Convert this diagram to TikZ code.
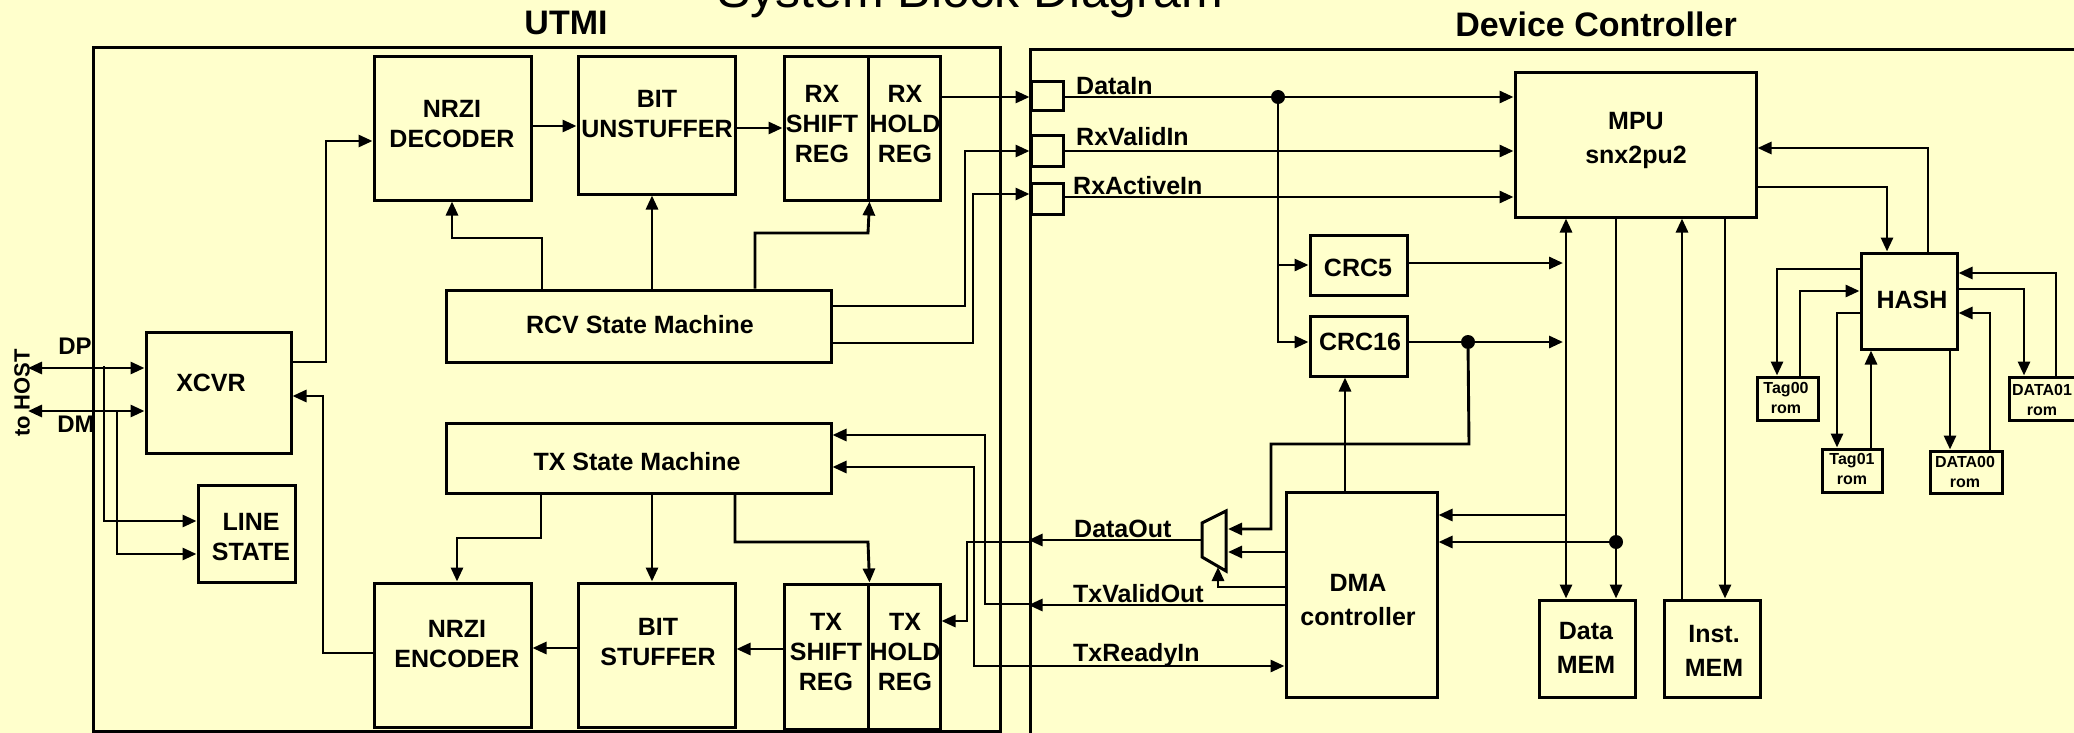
\documentclass[tikz,border=0pt]{standalone}
\usepackage{fontspec}
\setmainfont{Liberation Sans}
\usetikzlibrary{arrows.meta}
\definecolor{bgc}{HTML}{FFFFCC}
\begin{document}
\begin{tikzpicture}[x=1pt,y=-1pt,
  box/.style={draw, line width=3pt, inner sep=0pt},
  wire/.style={line width=2.9pt},
  arr/.style={wire, -{Triangle[length=14pt,width=12pt]}},
  darr/.style={wire, {Triangle[length=14pt,width=12pt]}-{Triangle[length=14pt,width=12pt]}},
  lbl/.style={font=\bfseries\fontsize{25}{29.5}\selectfont, align=center, inner sep=0pt},
  lblr/.style={font=\bfseries\fontsize{25}{30}\selectfont, align=center, inner sep=0pt},
  lblw/.style={font=\bfseries\fontsize{25}{34}\selectfont, align=center, inner sep=0pt},
  sml/.style={font=\bfseries\fontsize{16}{20}\selectfont, align=center, inner sep=0pt},
  sig/.style={font=\bfseries\fontsize{25}{30}\selectfont, anchor=base west, inner sep=0pt},
  hdr/.style={font=\bfseries\fontsize{34}{40}\selectfont, inner sep=0pt},
  dot/.style={circle, fill, inner sep=0pt, minimum size=14pt},
]
\useasboundingbox (0,0) rectangle (2074,733);
\fill[bgc] (0,0) rectangle (2074,733);

% title
\node[font=\fontsize{50}{60}\selectfont, anchor=base, inner sep=0pt] (title) at (970,8) {System Block Diagram};

% outer boxes
\node[box, minimum width=907pt, minimum height=683pt] (utmi) at (546.5,389.5) {};
\node[hdr] (utmit) at (566,23) {UTMI};
\node[box, minimum width=1060pt, minimum height=695pt] (devc) at (1560,397.5) {};
\node[hdr] (devct) at (1596,24) {Device Controller};

% UTMI blocks
\node[box, minimum width=157pt, minimum height=143pt] (nrzid) at (452.5,128.5) {};
\node[lbl] (nrzidt) at (452,124) {NRZI\\DECODER};
\node[box, minimum width=157pt, minimum height=137pt] (bitu) at (656.5,125.5) {};
\node[lbl] (bitut) at (657,114) {BIT\\UNSTUFFER};
\node[box, minimum width=84pt, minimum height=143pt] (rxs) at (826,128.5) {};
\node[box, minimum width=72pt, minimum height=143pt] (rxh) at (904,128.5) {};
\node[lblr] (rxst) at (822,124) {RX\\SHIFT\\REG};
\node[lblr] (rxht) at (905,124) {RX\\HOLD\\REG};
\node[box, minimum width=385pt, minimum height=72pt] (rcv) at (638.5,326) {};
\node[lbl] (rcvt) at (640,325) {RCV State Machine};
\node[box, minimum width=145pt, minimum height=121pt] (xcvr) at (218.5,392.5) {};
\node[lbl] (xcvrt) at (211,383) {XCVR};
\node[box, minimum width=97pt, minimum height=97pt] (lines) at (246.5,533.5) {};
\node[lblr] (linest) at (251,537) {LINE\\STATE};
\node[box, minimum width=385pt, minimum height=70pt] (txsm) at (638.5,458) {};
\node[lbl] (txsmt) at (637,462) {TX State Machine};
\node[box, minimum width=157pt, minimum height=144pt] (nrzie) at (452.5,655) {};
\node[lblr] (nrziet) at (457,644) {NRZI\\ENCODER};
\node[box, minimum width=157pt, minimum height=144pt] (bits) at (656.5,655) {};
\node[lblr] (bitst) at (658,642) {BIT\\STUFFER};
\node[box, minimum width=84pt, minimum height=145pt] (txs) at (826,656.5) {};
\node[box, minimum width=72pt, minimum height=145pt] (txh) at (904,656.5) {};
\node[lblr] (txst) at (826,652) {TX\\SHIFT\\REG};
\node[lblr] (txht) at (905,652) {TX\\HOLD\\REG};

% host side
\node[rotate=90, font=\bfseries\fontsize{22}{26}\selectfont, inner sep=0pt] (host) at (22,393) {to HOST};
\node[font=\bfseries\fontsize{24}{28}\selectfont, inner sep=0pt] (dp) at (75,346) {DP};
\node[font=\bfseries\fontsize{24}{28}\selectfont, inner sep=0pt] (dm) at (76,424) {DM};
\coordinate (hostdp) at (28,368);
\coordinate (hostdm) at (28,411);

% ports
\node[box, minimum width=32pt, minimum height=29pt] (pdi) at (1047,96.5) {};
\node[box, minimum width=32pt, minimum height=30pt] (prv) at (1047,151) {};
\node[box, minimum width=32pt, minimum height=31pt] (pra) at (1047,198.5) {};

% device blocks
\node[box, minimum width=241pt, minimum height=144pt] (mpu) at (1635.5,145) {};
\node[lblw] (mput) at (1636,140) {MPU\\snx2pu2};
\node[box, minimum width=97pt, minimum height=60pt] (crc5) at (1358.5,265) {};
\node[lbl] (crc5t) at (1358,268) {CRC5};
\node[box, minimum width=97pt, minimum height=60pt] (crc16) at (1358.5,346) {};
\node[lbl] (crc16t) at (1360,342) {CRC16};
\node[box, minimum width=151pt, minimum height=205pt] (dma) at (1361.5,594.5) {};
\node[lblw] (dmat) at (1358,600) {DMA\\controller};
\node[box, minimum width=96pt, minimum height=97pt] (dmem) at (1587,648.5) {};
\node[lblw] (dmemt) at (1586,648) {Data\\MEM};
\node[box, minimum width=96pt, minimum height=97pt] (imem) at (1712,648.5) {};
\node[lblw] (imemt) at (1714,651) {Inst.\\MEM};
\node[box, minimum width=96pt, minimum height=96pt] (hash) at (1909,301) {};
\node[lbl] (hasht) at (1912,300) {HASH};
\node[box, minimum width=61pt, minimum height=43pt] (tag00) at (1787.5,398.5) {};
\node[sml] (tag00t) at (1786,398) {Tag00\\rom};
\node[box, minimum width=60pt, minimum height=43pt] (tag01) at (1852,470.5) {};
\node[sml] (tag01t) at (1852,469) {Tag01\\rom};
\node[box, minimum width=72pt, minimum height=42pt] (data00) at (1966,472) {};
\node[sml] (data00t) at (1965,472) {DATA00\\rom};
\node[box, minimum width=67pt, minimum height=43pt] (data01) at (2042.5,398.5) {};
\node[sml] (data01t) at (2042,400) {DATA01\\rom};

% junction dots
\node[dot] (j1) at (1278,97) {};
\node[dot] (j2) at (1468,342) {};
\node[dot] (j3) at (1616,542) {};

% mux
\draw[line width=3pt] (1202,523) -- (1226,511) -- (1226,571) -- (1202,557) -- cycle;
\coordinate (muxo) at (1202,540);
\coordinate (muxi1) at (1228,529);
\coordinate (muxi2) at (1228,552);
\coordinate (muxs) at (1218,567);

% signal labels
\node[sig] (ldi) at (1076,95) {DataIn};
\node[sig] (lrv) at (1076,146) {RxValidIn};
\node[sig] (lra) at (1073,194) {RxActiveIn};
\node[sig] (ldo) at (1074,537) {DataOut};
\node[sig] (ltv) at (1073,602) {TxValidOut};
\node[sig] (ltr) at (1073,661) {TxReadyIn};

% ---- UTMI connectors
\draw[arr] (xcvr.east |- 0,362) -- (326,362) -- (326,141) -- (nrzid.west |- 0,141);
\draw[arr] (nrzid.east |- 0,126) -- (bitu.west |- 0,126);
\draw[arr] (bitu.east |- 0,128) -- (rxs.west |- 0,128);
\draw[arr] (rxh.east |- 0,97) -- (pdi.west |- 0,97);
\draw[arr] (rcv.east |- 0,306) -- (965,306) -- (965,151) -- (prv.west |- 0,151);
\draw[arr] (rcv.east |- 0,343) -- (973,343) -- (973,194) -- (pra.west |- 0,194);
\draw[arr] (rcv.north -| 542,0) -- (542,238) -- (452,238) -- (nrzid.south -| 452,0);
\draw[arr] (rcv.north -| 652,0) -- (bitu.south -| 652,0);
\draw[arr] (rcv.north -| 755,0) -- (755,233) -- (868,233) -- (rxs.south east);
\draw[arr] (txsm.south -| 541,0) -- (541,538) -- (457,538) -- (nrzie.north -| 457,0);
\draw[arr] (txsm.south -| 652,0) -- (bits.north -| 652,0);
\draw[arr] (txsm.south -| 735,0) -- (735,542) -- (868,542) -- (txs.north east);
\draw[arr] (bits.west |- 0,648) -- (nrzie.east |- 0,648);
\draw[arr] (txs.west |- 0,649) -- (bits.east |- 0,649);
\draw[arr] (nrzie.west |- 0,653) -- (323,653) -- (323,396) -- (xcvr.east |- 0,396);
\draw[darr] (hostdp) -- (xcvr.west |- hostdp);
\draw[darr] (hostdm) -- (xcvr.west |- hostdm);
\draw[arr] (104,366) -- (104,521) -- (lines.west |- 0,521);
\draw[arr] (117,411) -- (117,554) -- (lines.west |- 0,554);

% ---- boundary-crossing connectors
\draw[arr] (dma.west |- 0,605) -- (devc.west |- 0,605);
\draw[arr] (devc.west |- 0,604) -- (985,604) -- (985,435) -- (txsm.east |- 0,435);
\draw[arr] (muxo) -- (devc.west |- muxo);
\draw[arr] (devc.west |- 0,542) -- (967,542) -- (967,621) -- (txh.east |- 0,621);
\draw[darr] (txsm.east |- 0,467) -- (974,467) -- (974,666) -- (dma.west |- 0,666);

% ---- device connectors
\draw[wire] (pdi.east |- 0,97) -- (j1);
\draw[arr] (j1) -- (mpu.west |- 0,97);
\draw[arr] (prv.east |- 0,151) -- (mpu.west |- 0,151);
\draw[arr] (pra.east |- 0,197) -- (mpu.west |- 0,197);
\draw[arr] (j1) -- (1278,342) -- (crc16.west |- 0,342);
\draw[arr] (1278,265) -- (crc5.west |- 0,265);
\coordinate (bus5) at (1563,263);
\coordinate (bus16) at (1563,342);
\draw[arr] (crc5.east |- bus5) -- (bus5);
\draw[wire] (crc16.east |- j2) -- (j2);
\draw[arr] (j2) -- (bus16);
\draw[arr] (j2) -- (1469,444) -- (1271,444) -- (1271,529) -- (muxi1);
\draw[arr] (dma.west |- muxi2) -- (muxi2);
\draw[arr] (dma.west |- 0,587) -- (1218,587) -- (muxs);
\draw[arr] (dma.north -| 1345,0) -- (crc16.south -| 1345,0);
\draw[darr] (dmem.north -| 1566,0) -- (mpu.south -| 1566,0);
\draw[arr] (1566,515) -- (dma.east |- 0,515);
\draw[arr] (mpu.south -| 1616,0) -- (dmem.north -| 1616,0);
\draw[arr] (j3) -- (dma.east |- j3);
\draw[arr] (imem.north -| 1682,0) -- (mpu.south -| 1682,0);
\draw[arr] (mpu.south -| 1725,0) -- (imem.north -| 1725,0);
\draw[arr] (mpu.east |- 0,187) -- (1887,187) -- (hash.north -| 1887,0);
\draw[arr] (hash.north -| 1928,0) -- (1928,148) -- (mpu.east |- 0,148);
\draw[arr] (hash.west |- 0,269) -- (1777,269) -- (tag00.north -| 1777,0);
\draw[arr] (tag00.north -| 1800,0) -- (1800,291) -- (hash.west |- 0,291);
\draw[arr] (hash.west |- 0,313) -- (1837,313) -- (tag01.north -| 1837,0);
\draw[arr] (tag01.north -| 1871,0) -- (hash.south -| 1871,0);
\draw[arr] (hash.east |- 0,289) -- (2024,289) -- (data01.north -| 2024,0);
\draw[arr] (data01.north -| 2056,0) -- (2056,273) -- (hash.east |- 0,273);
\draw[arr] (hash.south -| 1950,0) -- (data00.north -| 1950,0);
\draw[arr] (data00.north -| 1990,0) -- (1990,313) -- (hash.east |- 0,313);
\end{tikzpicture}
\end{document}
